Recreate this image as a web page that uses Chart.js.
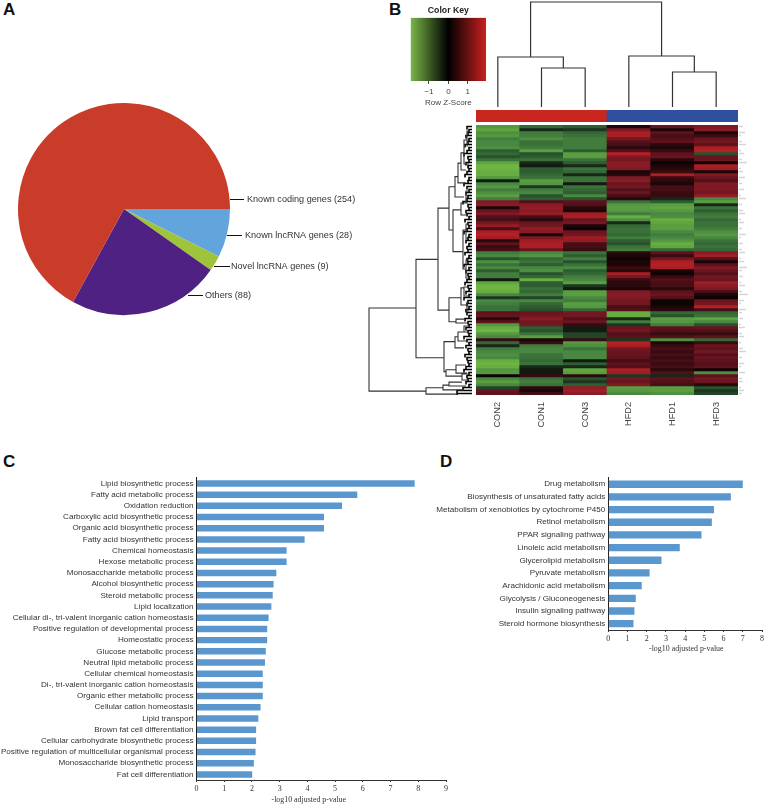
<!DOCTYPE html>
<html><head><meta charset="utf-8">
<script src="https://cdn.jsdelivr.net/npm/chart.js@4"></script>
<style>
html,body{margin:0;padding:0;background:#fff;width:766px;height:805px;overflow:hidden}
canvas{position:absolute;display:block;filter:blur(.35px)}
#heat{filter:blur(.6px)}
.p{position:absolute;font:bold 17px "Liberation Sans",Arial,sans-serif;color:#111;line-height:17px}
</style></head><body>
<div class="p" style="left:3px;top:1px">A</div>
<div class="p" style="left:389px;top:1px">B</div>
<div class="p" style="left:3px;top:453px">C</div>
<div class="p" style="left:440px;top:453px">D</div>
<canvas id="pie" width="380" height="230" style="left:0;top:95px"></canvas>
<canvas id="key" width="100" height="108" style="left:398px;top:0"></canvas>
<canvas id="coldend" width="262" height="107" style="left:476px;top:0"></canvas>
<canvas id="side" width="262" height="12" style="left:476px;top:110px"></canvas>
<canvas id="rowdend" width="108" height="270" style="left:364px;top:125px"></canvas>
<canvas id="heat" width="262" height="310" style="left:476px;top:125px"></canvas>
<canvas id="specks" width="10" height="270" style="left:739px;top:125px"></canvas>
<canvas id="barC" width="460" height="335" style="left:0;top:470px"></canvas>
<canvas id="barD" width="336" height="185" style="left:430px;top:470px"></canvas>
<script>
// ---------- data ----------
const pieNames=["Known lncRNA genes","Novel lncRNA genes","Others","Known coding genes"];
const pieValues=[28,9,88,254];
const heatColumns=["CON2","CON1","CON3","HFD2","HFD1","HFD3"];
const keyTicks=[-1,0,1];
// row z-scores in tenths, top row first
const zCON2=[-12,-14,-11,-12,-9,-10,-10,-11,-6,-7,-5,-8,-14,-16,-16,-15,-15,-12,-1,-10,-12,-9,-11,-13,-9,
 9,10,1,7,9,5,4,8,11,4,13,14,12,2,6,3,4,
 -9,-10,-5,-11,-8,-10,-6,-9,-9,-1,-14,-16,-16,-15,-10,-3,-10,-9,-8,-8,
 6,7,2,6,-12,-15,-16,-12,-10,3,-7,-2,-9,-10,-11,-10,-15,-16,-15,-12,-12,0,-10,-13,-10,-4,7,6];
const zCON1=[-7,-2,-9,-9,-11,-8,-8,-9,-13,-5,-6,-8,-2,-1,-6,-6,-7,-8,-13,-12,-3,-9,-10,-5,-6,
 5,10,11,10,11,4,2,7,8,11,10,1,9,12,13,13,7,
 -10,-12,-7,-8,-6,-10,-11,-5,-7,-15,-6,-6,-8,-7,-9,-4,-10,-7,-6,-5,
 7,8,10,8,8,-6,-5,-8,-13,1,3,-9,-10,-10,-8,-8,-7,-8,-2,-1,-1,3,-8,-9,-8,2,1,4];
const zCON3=[-6,-3,-7,-8,-9,-9,-9,-9,-6,-13,-13,-8,-6,-2,-8,-7,-2,-8,-8,-1,-8,-7,-6,-10,-5,
 6,5,2,1,12,13,7,8,1,0,7,8,12,11,4,4,3,
 -8,-6,-9,-5,-8,-10,-6,-7,-9,-10,-13,-3,-1,-13,-13,-10,-9,-13,-12,-7,
 8,8,5,7,3,-1,-1,-4,-4,3,-12,-11,-8,-10,-10,-10,-1,-6,-2,-14,-13,2,-5,-3,-6,11,12,10];
const zHFD2=[1,9,13,13,8,5,4,2,5,14,9,8,10,10,9,1,2,9,10,7,8,5,7,4,2,
 -8,-12,-13,-12,-9,-15,-11,-2,-7,-8,-8,-7,-9,-6,-5,-8,-9,
 2,1,0,1,1,3,2,13,8,3,2,2,1,9,10,9,8,8,4,5,
 -15,-15,-2,-9,-3,7,8,5,6,-3,14,13,8,7,7,6,4,6,5,13,12,-3,8,7,9,-13,-12,-10];
const zHFD1=[7,1,6,4,5,6,2,1,3,6,7,2,0,1,2,3,13,3,2,1,4,4,3,3,-2,
 -6,-13,-14,-12,-10,-11,-15,-14,-13,-13,-10,-9,-10,-12,-15,-14,-7,
 6,3,8,13,14,13,1,0,3,5,4,4,2,6,7,5,0,0,1,2,
 -7,-5,-13,-12,-9,6,5,3,5,-11,1,3,4,3,4,3,4,3,4,2,5,-2,6,5,4,-13,-13,-11];
const zHFD3=[9,10,1,3,7,8,6,13,14,-5,7,7,0,13,12,1,9,7,5,9,9,9,8,11,-10,
 -13,-2,-8,-6,-8,-9,-7,-8,-8,-9,-11,-12,-10,-8,-7,-8,-7,
 10,12,5,1,6,9,7,5,8,7,12,10,9,4,1,0,7,8,14,4,
 -7,-8,-14,-10,-5,7,5,3,6,-7,3,7,6,8,5,7,6,5,6,0,-11,6,8,7,2,-5,-3,-4];
// merges: [height, posA, heightA, posB, heightB]
const colMerges=[[39,1,0,2,0],[50,0,0,1.5,39],[35,4,0,5,0],[51,3,0,4.5,35],[105,0.75,50,3.75,51]];
const rowMerges=[[103,61,56,88.7,46],[56,44.8,34,77.6,28],[34,27.7,23,61.7,23],[23,20.6,17,35,19],
 [17,17.2,14,24,8],[14,12.7,11,19.3,6],[11,9.3,8,15,6],[8,5,5,13,3],[19,28.3,11,42.2,9],[11,26,6,30,5],
 [9,35,6,48,6],[23,57.6,11,65.6,16],[11,54.3,8,60,5],[16,64.7,8,66,4],[28,72.2,17,82.2,26],[17,70.6,14,74.3,8],
 [14,69,6,72,5],[26,81.6,16,83.7,10],[16,80,6,82.7,5],[46,87.6,29,89.7,15],[29,86.7,23,88.3,8],[23,85.7,10,87,6],
 [5,2,3,7,4],[6,22,3,26,4],[6,33,3,38,4],[6,45,3,51,4],[8,54,4,57,3],[5,59,3,62,3],[8,67,3,69,4],[10,83,4,85,4]];
const tipDepth=[5,3,4,6,3,4,7,3,5,8,4,3,6,4,3,5,7,3,4,8,5,3,6,4,5,9,4,3,6,5,3,7,4,3,5,8,3,4,6,3,5,4,
 7,3,5,4,8,3,6,4,3,5,7,4,3,6,3,8,4,5,3,6,5,3,7,4,3,6,4,3,8,5,3,6,4,3,7,5,4,3,6,8,3,5,4,6,3,9,15,15];
const speckLength=[4,0,6,2,0,3,7,0,2,5,0,3,8,0,2,4,0,6,1,3,0,5,0,2,7,0,3,0,4,6,0,2,5,0,3,0,7,2,0,4,
 0,3,6,0,2,5,0,8,3,0,4,0,2,6,0,3,9,0,5,2,0,7,3,0,4,0,2,6,0,3,5,0,2,0,4,7,0,3,0,5,2,0,6,0,3,4,0,2,5,3];
const groupColumns=["CON","CON","CON","HFD","HFD","HFD"];
const catC=["Lipid biosynthetic process","Fatty acid metabolic process","Oxidation reduction","Carboxylic acid biosynthetic process","Organic acid biosynthetic process","Fatty acid biosynthetic process","Chemical homeostasis","Hexose metabolic process","Monosaccharide metabolic process","Alcohol biosynthetic process","Steroid metabolic process","Lipid localization","Cellular di-, tri-valent inorganic cation homeostasis","Positive regulation of developmental process","Homeostatic process","Glucose metabolic process","Neutral lipid metabolic process","Cellular chemical homeostasis","Di-, tri-valent inorganic cation homeostasis","Organic ether metabolic process","Cellular cation homeostasis","Lipid transport","Brown fat cell differentiation","Cellular carbohydrate biosynthetic process","Positive regulation of multicellular organismal process","Monosaccharide biosynthetic process","Fat cell differentiation"];
const valC=[7.87,5.8,5.25,4.6,4.6,3.9,3.25,3.25,2.88,2.78,2.75,2.7,2.6,2.55,2.55,2.5,2.47,2.39,2.39,2.39,2.31,2.23,2.15,2.15,2.13,2.07,2.01];
const catD=["Drug metabolism","Biosynthesis of unsaturated fatty acids","Metabolism of xenobiotics by cytochrome P450","Retinol metabolism","PPAR signaling pathway","Linoleic acid metabolism","Glycerolipid metabolism","Pyruvate metabolism","Arachidonic acid metabolism","Glycolysis / Gluconeogenesis","Insulin signaling pathway","Steroid hormone biosynthesis"];
const valD=[7.0,6.38,5.5,5.39,4.85,3.72,2.77,2.15,1.74,1.43,1.36,1.31];

// ---------- styles ----------
const SANS='"Liberation Sans",Arial,sans-serif', SERIF='"Liberation Serif","Times New Roman",serif';
const pieColors=["#62a5dc","#9fc439","#4f2183","#c93c2a"];
const calloutStyle=[{x0:227,x1:242,tx:245,y:235},{x0:214,x1:230,tx:231,y:266},{x0:188,x1:203,tx:205,y:295},{x0:230,x1:244,tx:247,y:199}];
const greenStops=[[0,[12,12,10]],[.5,[40,82,46]],[1,[72,136,66]],[1.6,[110,180,66]]];
const redStops=[[0,[14,4,4]],[.5,[84,16,26]],[1,[135,28,38]],[1.4,[182,32,36]]];
function zColor(t){const z=Math.abs(t/10),st=t<0?greenStops:redStops;
 for(let i=1;i<st.length;i++){if(z<=st[i][0]||i===st.length-1){const a=st[i-1],b=st[i],f=Math.min(1,(z-a[0])/(b[0]-a[0]));
  return `rgb(${a[1].map((v,k)=>Math.round(v+(b[1][k]-v)*f)).join(",")})`;}}}
Chart.defaults.animation=false;
Chart.defaults.responsive=false;
Chart.defaults.plugins.legend.display=false;
Chart.defaults.plugins.tooltip.enabled=false;
Chart.defaults.font.family=SANS;

// ---------- A: pie ----------
const calloutPlugin={id:"callouts",afterDraw(c){const g=c.ctx;g.save();g.textBaseline="middle";g.font="9.1px "+SANS;
 const top=c.canvas.offsetTop;
 pieNames.forEach((n,i)=>{const s=calloutStyle[i];g.strokeStyle="#111";g.lineWidth=1;g.beginPath();g.moveTo(s.x0,s.y-top+.5);g.lineTo(s.x1,s.y-top+.5);g.stroke();
  g.fillStyle="#333";g.fillText(`${n} (${pieValues[i]})`,s.tx,s.y-top+.5);});g.restore();}};
new Chart(pie,{type:"pie",data:{labels:pieNames,datasets:[{data:pieValues,backgroundColor:pieColors,borderWidth:0}]},
 options:{rotation:90,layout:{padding:{left:18,top:8,right:150,bottom:10}}},plugins:[calloutPlugin]});

// ---------- B: colour key ----------
new Chart(key,{type:"bar",data:{labels:["z"],datasets:[{data:[[-1.94,1.94]],barPercentage:1,categoryPercentage:1,borderWidth:0,
  backgroundColor(ctx){const a=ctx.chart.chartArea;if(!a)return "#000";const gr=ctx.chart.ctx.createLinearGradient(a.left,0,a.right,0);
   gr.addColorStop(0,"rgb(122,182,72)");gr.addColorStop(.5,"#000");gr.addColorStop(1,"rgb(200,32,31)");return gr;}}]},
 options:{indexAxis:"y",layout:{padding:{left:12.7,right:12}},
  plugins:{title:{display:true,text:"Color Key",color:"#222",font:{size:8.7,weight:"bold",family:SANS,lineHeight:1.2},padding:{top:5.5,bottom:1.8}}},
  scales:{y:{display:false},
   x:{min:-1.94,max:1.94,afterBuildTicks(a){a.ticks=keyTicks.map(v=>({value:v}));},afterFit(a){a.height=27;},
    grid:{drawOnChartArea:false,tickLength:3,color:"#444"},border:{display:false},
    ticks:{color:"#444",font:{size:8},padding:3,maxRotation:0,callback:v=>String(v).replace("-","\u2212")},
    title:{display:true,text:"Row Z-Score",color:"#444",font:{size:8},padding:{top:0,bottom:0}}}}}});

// ---------- B: dendrograms ----------
function links(merges){const pts=[];
 merges.forEach(m=>{pts.push({x:m[1],h:m[2]},{x:m[1],h:m[0]},{x:m[3],h:m[0]},{x:m[3],h:m[4]},null);});
 return pts;}
new Chart(coldend,{type:"scatter",data:{datasets:[{data:links(colMerges).map(p=>p?{x:p.x,y:p.h}:{x:NaN,y:NaN}),showLine:true,spanGaps:false,clip:false,borderColor:"#333",borderWidth:1.2,pointRadius:0}]},
 options:{scales:{x:{display:false,min:-.5,max:5.5},y:{display:false,min:0,max:107}}}});
const rowPts=links(rowMerges).map(p=>p?{x:p.h,y:p.x}:{x:NaN,y:NaN});
const tipPts=[];tipDepth.forEach((d,i)=>{tipPts.push({x:0,y:i+.5},{x:d,y:i+.5},{x:d,y:i+1.5},{x:NaN,y:NaN});});
new Chart(rowdend,{type:"scatter",data:{datasets:[
 {data:rowPts,showLine:true,spanGaps:false,clip:false,borderColor:"#333",borderWidth:1.1,pointRadius:0},
 {data:tipPts,showLine:true,spanGaps:false,clip:false,borderColor:"#000",borderWidth:1.6,pointRadius:0}]},
 options:{scales:{x:{display:false,reverse:true,min:0,max:108},y:{display:false,reverse:true,min:0,max:90}}}});

// ---------- B: column side bar ----------
new Chart(side,{type:"bar",data:{labels:groupColumns,datasets:[{data:groupColumns.map(()=>1),
  backgroundColor:groupColumns.map(g=>g==="CON"?"#c9261f":"#2f4f9f"),borderWidth:0,barPercentage:1,categoryPercentage:1}]},
 options:{scales:{x:{display:false},y:{display:false,min:0,max:1}}}});

// ---------- B: heatmap ----------
const zCols=[zCON2,zCON1,zCON3,zHFD2,zHFD1,zHFD3];
new Chart(heat,{type:"bar",data:{labels:heatColumns,datasets:zCON2.map((_,r)=>({data:zCols.map(()=>1),
   backgroundColor:zCols.map(c=>zColor(c[r])),borderWidth:0,barPercentage:1,categoryPercentage:1}))},
 options:{scales:{
  y:{display:false,stacked:true,reverse:true,min:0,max:90},
  x:{stacked:true,afterFit(a){a.height=40;},grid:{display:false,drawTicks:false},border:{display:false},
   ticks:{color:"#444",font:{size:9.2},minRotation:90,maxRotation:90,padding:7,autoSkip:false}}}}});

// ---------- B: faint row labels ----------
new Chart(specks,{type:"bar",data:{labels:speckLength.map((_,i)=>i),datasets:[{data:speckLength,backgroundColor:"#d4d4d4",borderWidth:0,barPercentage:.5,categoryPercentage:1}]},
 options:{indexAxis:"y",scales:{x:{display:false,min:0,max:10},y:{display:false}}}});

// ---------- C, D: bars ----------
const axisTitlePlugin={id:"axisTitle",afterDraw(c,_,o){const g=c.ctx,x=c.scales.x;g.save();g.font="7.9px "+SERIF;g.fillStyle="#333";g.textAlign="center";g.textBaseline="middle";
 g.fillText("-log10 adjusted p-value",x.getPixelForValue(o.centerValue),c.chartArea.bottom+o.drop);g.restore();}};
function barChart(el,cats,vals,maxV,axisW,padR,padT,centerValue,drop){
 return new Chart(el,{type:"bar",data:{labels:cats,datasets:[{data:vals,backgroundColor:"#5b97cf",borderWidth:0,barPercentage:.58,categoryPercentage:1}]},
  plugins:[axisTitlePlugin],
  options:{indexAxis:"y",layout:{padding:{top:padT,right:padR}},plugins:{axisTitle:{centerValue,drop}},scales:{
   y:{afterFit(a){a.width=axisW;},grid:{display:false,drawTicks:false},border:{color:"#222",width:1},
      ticks:{color:"#333",font:{size:8.1,family:SANS},padding:3,autoSkip:false}},
   x:{min:0,max:maxV,afterFit(a){a.height=25;},grid:{drawOnChartArea:false,tickLength:2,color:"#333"},border:{color:"#333",width:1},
      ticks:{stepSize:1,color:"#333",font:{size:8,family:SERIF},padding:2,maxRotation:0}}}}});
}
barChart(barC,catC,valC,9,196.5,14,6,4.05,20);
barChart(barD,catD,valD,8,178.3,2.5,6.7,4.06,19);
</script>
</body></html>
